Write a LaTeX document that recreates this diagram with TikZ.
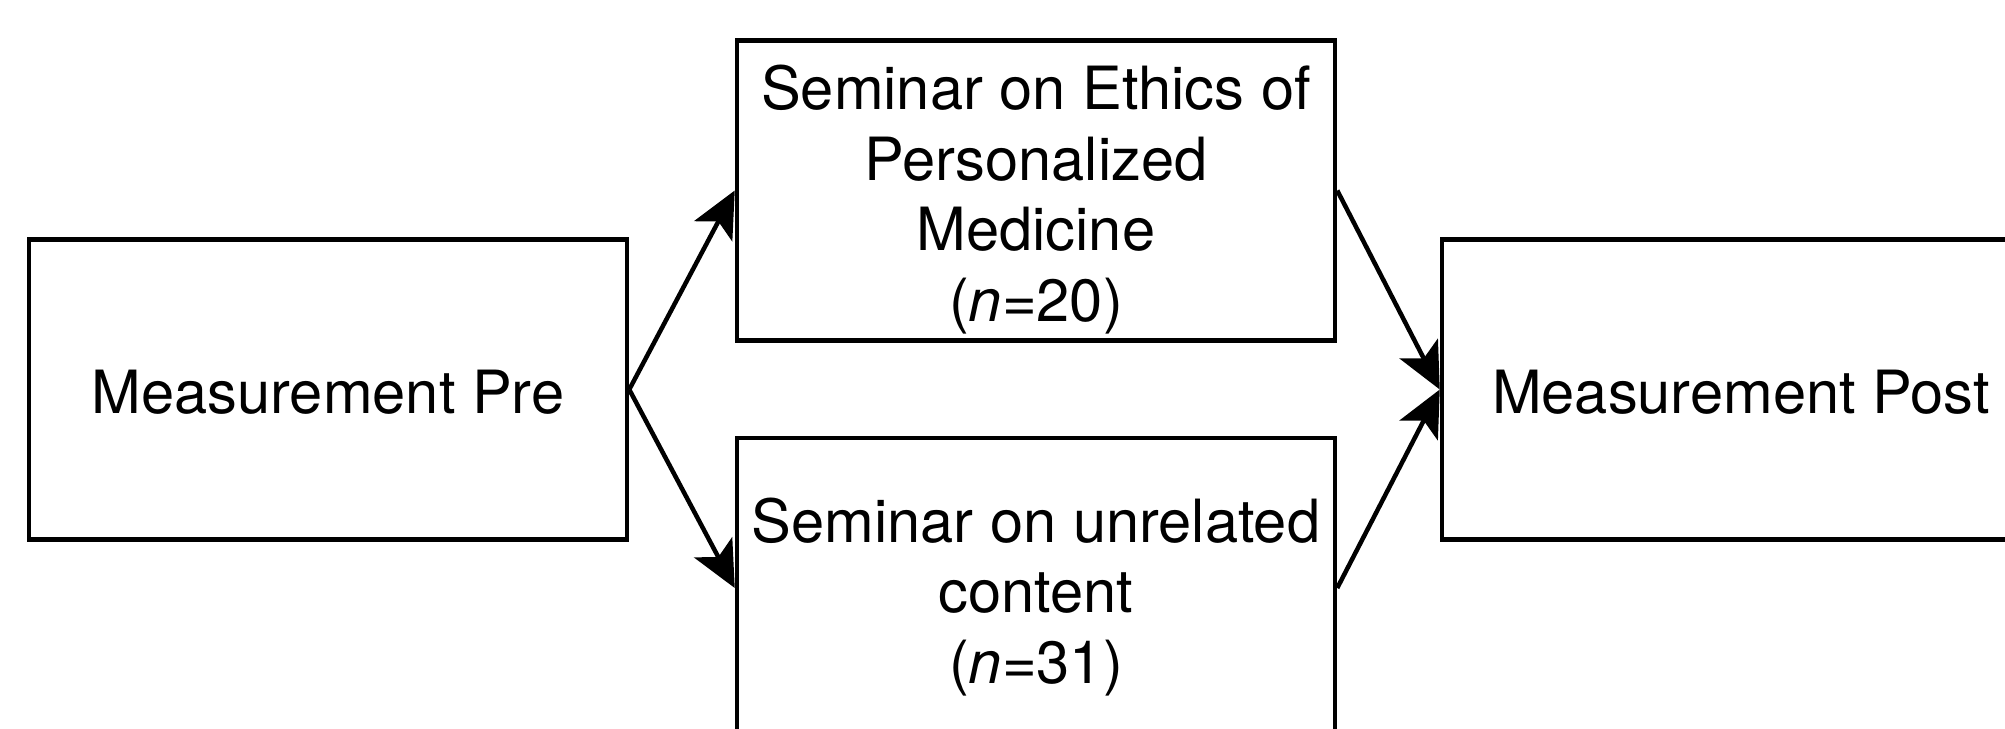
\documentclass[tikz,border=0pt]{standalone}
\usepackage{fontspec}
\setmainfont{TeX Gyre Heros}
\usetikzlibrary{arrows.meta}
\begin{document}
\begin{tikzpicture}[x=0.5pt,y=-0.5pt,
  box/.style={draw=black, line width=2.25pt, fill=white, minimum width=299pt, minimum height=150pt, inner sep=0pt},
  txt/.style={inner sep=0pt, align=center, font=\fontsize{29.8}{35.2}\selectfont},
  conn/.style={line width=2.25pt, -{Stealth[length=23pt,width=21.5pt,inset=5.5pt]}}]
\useasboundingbox (0,0) rectangle (2005,728);
\clip (0,0) rectangle (2005,728);
\fill[white] (0,0) rectangle (2005,728);
\node[box] (pre) at (328,389.5) {};
\node[txt] (pretext) at ([yshift=-1.5pt]pre.center) {Measurement Pre};
\node[box] (sem1) at (1036,190.5) {};
\node[txt] (sem1text) at ([yshift=-4.5pt]sem1.center) {Seminar on Ethics of\\Personalized\\Medicine\\(\textit{n}=20)};
\node[box] (sem2) at (1036,588) {};
\node[txt] (sem2text) at ([yshift=-4.5pt]sem2.center) {Seminar on unrelated\\content\\(\textit{n}=31)};
\node[box] (post) at (1741,389.5) {};
\node[txt] (posttext) at ([yshift=-1.5pt]post.center) {Measurement Post};
\draw[conn] (pre.east) -- (sem1.west);
\draw[conn] (pre.east) -- (sem2.west);
\draw[conn] (sem1.east) -- (post.west);
\draw[conn] (sem2.east) -- (post.west);
\end{tikzpicture}
\end{document}
